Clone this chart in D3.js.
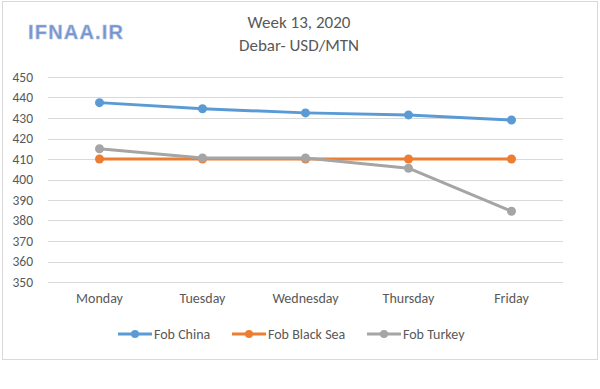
<!DOCTYPE html>
<html>
<head>
<meta charset="utf-8">
<script src="https://cdn.jsdelivr.net/npm/d3@7"></script>
<style>
  html, body { margin: 0; padding: 0; background: #fff; }
  svg { display: block; }
</style>
</head>
<body>
<script>
const fontFamily = "Calibri, Carlito, \"Open Sans\", \"Liberation Sans\", sans-serif";

const days = ["Monday", "Tuesday", "Wednesday", "Thursday", "Friday"];
const fobChina = [437.5, 434.5, 432.5, 431.5, 429];
const fobBlackSea = [410, 410, 410, 410, 410];
const fobTurkey = [415, 410.5, 410.5, 405.5, 384.5];
const yTicks = [350, 360, 370, 380, 390, 400, 410, 420, 430, 440, 450];

const seriesNames = ["Fob China", "Fob Black Sea", "Fob Turkey"];
const seriesColors = ["#5b9bd5", "#ed7d31", "#a5a5a5"];

const width = 600;
const height = 389;
const margin = { top: 77, right: 37, bottom: 107, left: 48 };

let series = [
    { name: seriesNames[0], color: seriesColors[0], values: fobChina },
    { name: seriesNames[1], color: seriesColors[1], values: fobBlackSea },
    { name: seriesNames[2], color: seriesColors[2], values: fobTurkey }
];

let svg = d3.select("body")
    .append("svg")
    .attr("width", width)
    .attr("height", height)
    .style("font-family", fontFamily);

// chart frame
svg.append("rect")
    .attr("x", 2.5)
    .attr("y", 1.5)
    .attr("width", 595)
    .attr("height", 358)
    .attr("fill", "#fff")
    .attr("stroke", "#d9d9d9")
    .attr("stroke-width", 1);

// logo
svg.append("text")
    .attr("x", 28)
    .attr("y", 39)
    .attr("font-family", "\"Liberation Sans\", Arial, sans-serif")
    .attr("font-size", 20)
    .attr("font-weight", "bold")
    .attr("fill", "#7393d2")
    .attr("stroke", "#b4c2de")
    .attr("stroke-width", 0.6)
    .attr("textLength", 95)
    .text("IFNAA.IR");

// title
svg.append("text")
    .attr("x", 299)
    .attr("y", 28)
    .attr("text-anchor", "middle")
    .attr("font-size", 17)
    .attr("fill", "#595959")
    .text("Week 13, 2020");

svg.append("text")
    .attr("x", 299)
    .attr("y", 51)
    .attr("text-anchor", "middle")
    .attr("font-size", 17)
    .attr("fill", "#595959")
    .text("Debar- USD/MTN");

let x = d3.scaleBand()
    .domain(days)
    .range([margin.left, width - margin.right]);

let y = d3.scaleLinear()
    .domain([350, 450])
    .range([height - margin.bottom, margin.top]);

// gridlines
svg.append("g")
    .selectAll("line.grid")
    .data(yTicks)
    .enter()
    .append("line")
    .classed("grid", true)
    .attr("x1", margin.left)
    .attr("x2", width - margin.right)
    .attr("y1", d => Math.round(y(d)) + 0.5)
    .attr("y2", d => Math.round(y(d)) + 0.5)
    .attr("stroke", "#d9d9d9")
    .attr("stroke-width", 1);

// y axis labels
let yAxis = svg.append("g")
    .attr("transform", `translate(${margin.left - 15},0)`)
    .call(d3.axisLeft(y).tickValues(yTicks).tickSize(0).tickPadding(0));
yAxis.select(".domain").remove();
yAxis.selectAll("text")
    .attr("font-family", fontFamily)
    .attr("font-size", 13.5)
    .attr("fill", "#595959");

// x axis labels
let xAxis = svg.append("g")
    .attr("transform", `translate(0,${height - margin.bottom + 11})`)
    .call(d3.axisBottom(x).tickSize(0).tickPadding(0));
xAxis.select(".domain").remove();
xAxis.selectAll("text")
    .attr("font-family", fontFamily)
    .attr("font-size", 14)
    .attr("fill", "#595959");

let line = d3.line()
    .x((d, i) => x(days[i]) + x.bandwidth() / 2)
    .y(d => y(d));

let groups = svg.append("g")
    .selectAll("g.series")
    .data(series)
    .enter()
    .append("g")
    .classed("series", true);

groups.append("path")
    .attr("d", d => line(d.values))
    .attr("fill", "none")
    .attr("stroke", d => d.color)
    .attr("stroke-width", 3)
    .attr("stroke-linejoin", "round");

groups.selectAll("circle")
    .data(d => d.values.map(v => ({ v: v, color: d.color })))
    .enter()
    .append("circle")
    .attr("cx", (d, i) => x(days[i]) + x.bandwidth() / 2)
    .attr("cy", d => y(d.v))
    .attr("r", 4.5)
    .attr("fill", d => d.color);

// legend
let legendX = [118, 232, 367];
let legend = svg.append("g")
    .selectAll("g.legend")
    .data(series)
    .enter()
    .append("g")
    .classed("legend", true)
    .attr("transform", (d, i) => `translate(${legendX[i]},334)`);

legend.append("line")
    .attr("x1", 0)
    .attr("x2", 34)
    .attr("stroke", d => d.color)
    .attr("stroke-width", 3);

legend.append("circle")
    .attr("cx", 17)
    .attr("r", 4)
    .attr("fill", d => d.color);

legend.append("text")
    .attr("x", 36)
    .attr("dy", "0.35em")
    .attr("font-size", 14)
    .attr("fill", "#595959")
    .text(d => d.name);
</script>
</body>
</html>
